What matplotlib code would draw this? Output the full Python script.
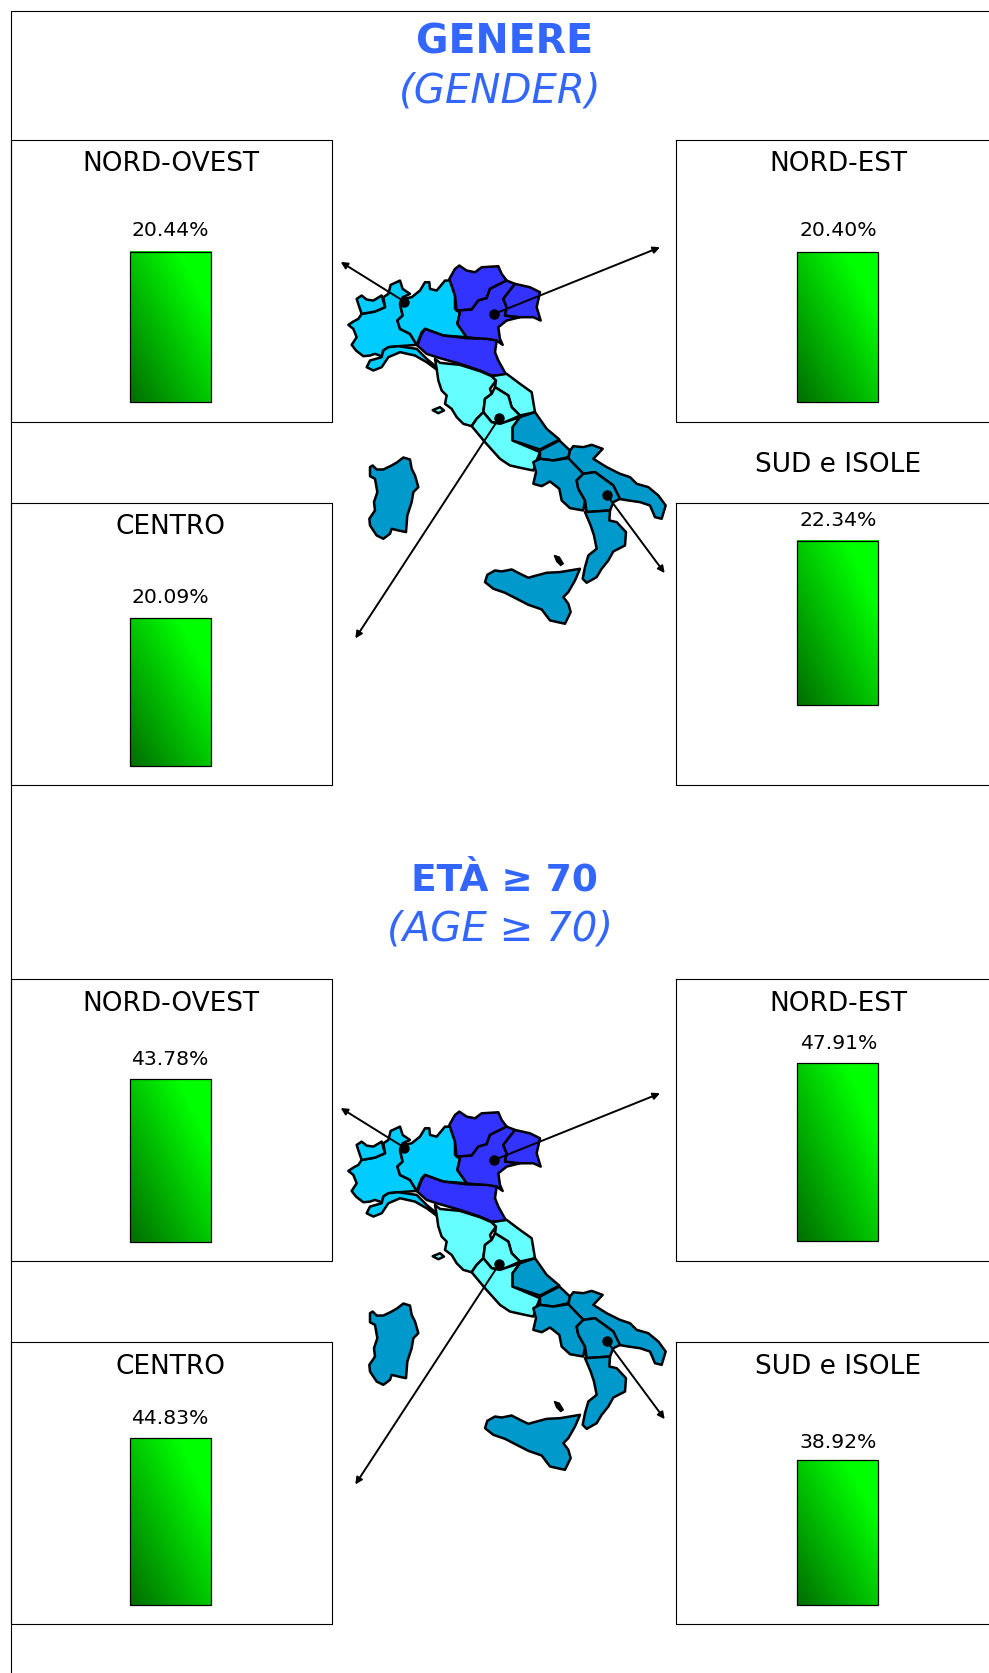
import numpy as np
import matplotlib
matplotlib.use('Agg')
import matplotlib.pyplot as plt
from matplotlib.colors import LinearSegmentedColormap
from matplotlib.patches import Polygon

# Chart values
areas = ['NORD-OVEST', 'NORD-EST', 'CENTRO', 'SUD e ISOLE']
gender_values = [20.44, 20.40, 20.09, 22.34]
age_values = [43.78, 47.91, 44.83, 38.92]

# Map outlines
piemonte = [(125,225),(165,218),(195,205),(190,175),(205,165),(212,138),(240,125),(248,150),(270,165),(248,175),(240,195),(248,230),(232,245),(240,270),(270,285),(290,318),(235,322),(205,325),(190,335),(185,352),(165,345),(150,350),(130,352),(108,335),(95,318),(110,295),(100,270),(85,258),(100,248),(115,240)]
aosta = [(110,180),(125,170),(140,182),(160,185),(185,170),(195,205),(165,218),(125,225),(118,205)]
lombardia = [(248,180),(275,175),(300,155),(315,130),(328,130),(330,150),(350,155),(375,125),(390,125),(405,170),(405,210),(420,220),(412,255),(440,295),(370,290),(315,270),(305,280),(290,318),(270,285),(240,270),(232,245),(248,230),(240,195)]
liguria = [(140,385),(150,365),(185,355),(190,335),(205,325),(235,322),(290,330),(320,360),(350,385),(350,392),(320,370),(285,350),(240,340),(205,355),(185,385),(160,395)]
trentino = [(388,120),(405,90),(418,80),(440,95),(465,100),(485,85),(535,82),(545,105),(560,125),(510,150),(500,178),(475,185),(455,212),(410,215),(405,170)]
veneto = [(410,215),(455,212),(475,185),(500,178),(510,150),(560,125),(585,135),(550,180),(560,205),(555,230),(600,235),(560,245),(535,265),(540,300),(548,318),(530,305),(440,295),(412,255),(420,220)]
friuli = [(585,135),(630,145),(660,160),(650,205),(662,245),(640,235),(600,235),(555,230),(560,205),(550,180)]
emilia = [(315,270),(370,290),(440,298),(500,300),(530,305),(525,340),(535,365),(560,410),(515,410),(480,395),(420,375),(350,355),(320,345),(292,320),(305,285)]
toscana = [(345,360),(360,372),(420,378),(480,397),(515,412),(528,425),(510,450),(515,465),(495,480),(490,520),(470,540),(455,562),(430,555),(410,535),(395,510),(375,495),(380,470),(365,455),(355,425),(350,390)]
marche = [(515,412),(560,405),(600,435),(635,460),(645,520),(600,530),(575,505),(565,470),(525,445),(528,425)]
umbria = [(515,465),(525,445),(565,470),(575,505),(600,530),(560,548),(540,555),(515,550),(490,520),(495,480)]
lazio = [(490,520),(515,550),(540,555),(560,548),(600,535),(578,565),(578,605),(660,640),(650,665),(640,695),(615,690),(570,680),(540,660),(495,610),(455,562),(470,540)]
abruzzo = [(600,535),(645,520),(680,570),(718,602),(660,632),(578,605),(578,565)]
molise = [(660,635),(718,605),(750,635),(745,655),(700,665),(660,660)]
puglia = [(750,635),(760,622),(790,625),(815,618),(848,630),(820,660),(860,685),(900,705),(930,715),(950,735),(985,745),(1015,770),(1037,800),(1025,840),(1005,835),(990,800),(960,790),(925,785),(895,780),(880,740),(825,700),(790,705),(745,660)]
campania = [(640,670),(660,660),(700,665),(745,658),(790,705),(770,725),(775,750),(795,785),(790,815),(750,808),(725,785),(718,750),(690,728),(665,742),(640,735),(648,700)]
basilicata = [(790,705),(825,700),(880,740),(900,780),(880,790),(870,815),(800,820),(795,785),(775,750),(770,725)]
calabria = [(795,820),(870,815),(868,845),(890,850),(918,880),(915,920),(880,938),(865,965),(845,990),(830,1015),(800,1032),(788,1020),(795,985),(805,950),(830,930),(822,890),(812,860)]
sicilia = [(495,1030),(502,1008),(525,995),(545,998),(575,992),(600,1005),(625,1017),(650,1010),(680,1002),(720,1000),(780,990),(765,1025),(745,1060),(730,1075),(745,1095),(752,1120),(735,1155),(712,1150),(690,1145),(665,1112),(625,1098),(590,1080),(555,1062),(520,1050)]
sardegna = [(150,685),(158,680),(170,692),(190,692),(215,680),(232,670),(250,656),(270,662),(275,690),(285,710),(295,745),(280,760),(275,790),(262,830),(258,880),(235,875),(215,870),(210,885),(190,900),(170,890),(150,860),(148,840),(165,815),(162,790),(172,760),(165,720),(150,712)]
elba = [(338,514),(360,505),(372,515),(355,523)]
eolie = [(703,950),(718,955),(730,975),(722,980),(710,968)]

map_groups = [
    ('#00CCFF', [piemonte, aosta, lombardia, liguria]),
    ('#3333FF', [trentino, veneto, friuli, emilia]),
    ('#66FFFF', [toscana, marche, umbria, lazio, elba]),
    ('#0099CC', [abruzzo, molise, puglia, campania, basilicata, calabria, sicilia, sardegna]),
]

# dot and arrow tip for each area, same units as the outlines
dots = [(253,188), (523,225), (538,537), (860,768)]
tips = [(62,69), (1020,25), (106,1199), (1034,1003)]

W, H = 989, 1674
S = 989 / 926
green = LinearSegmentedColormap.from_list('green', ['#006E00', '#00FF00'])

fig = plt.figure(figsize=(W / 100, H / 100), dpi=100)
ax = fig.add_axes([0, 0, 1, 1])
ax.set_xlim(0, 926)
ax.set_ylim(1568, 0)
ax.axis('off')


def map_xy(pt, dy):
    return ((320 + pt[0] / 3) / S, (240 + pt[1] / 3) / S + dy)


def draw_map(dy):
    for colour, shapes in map_groups:
        for shape in shapes:
            ax.add_patch(Polygon([map_xy(p, dy) for p in shape], closed=True, fc=colour,
                                 ec='black', lw=1.8, joinstyle='round', zorder=3))
    ax.add_patch(Polygon([map_xy(p, dy) for p in eolie], closed=True, fc='black',
                         ec='black', lw=1, zorder=3))
    for dot, tip in zip(dots, tips):
        ax.plot(*map_xy(dot, dy), 'o', color='black', ms=6.5, zorder=5)
        ax.annotate('', xy=map_xy(tip, dy), xytext=map_xy(dot, dy), zorder=4,
                    arrowprops=dict(arrowstyle='-|>', color='black', lw=1.4,
                                    shrinkA=0, shrinkB=0, mutation_scale=10))


def draw_bar(value, x0, x1, base, scale):
    # one small axes per bar so that the height comes from the value
    top_value = 60
    height = top_value * scale
    bar_ax = fig.add_axes([x0 / 926, 1 - base / 1568, (x1 - x0) / 926, height / 1568])
    bar_ax.axis('off')
    u, v = np.meshgrid(np.linspace(0, 1, 60), np.linspace(0, 1, 120))
    bar_ax.imshow((u + v) / 2, cmap=green, extent=(0, 1, 0, value), origin='lower',
                  aspect='auto', vmin=0, vmax=0.8)
    bar_ax.set_xlim(0, 1)
    bar_ax.set_ylim(0, top_value)
    bar_ax.bar(0.5, value, width=1, fc='none', ec='black', lw=0.9, clip_on=False)


def draw_block(title, subtitle, title_size, title_y, values, scale, dy, tops, bases, val_y, lab_y):
    ax.text(472, title_y, title, color='#3366FF', fontsize=title_size, fontweight='bold', ha='center', va='center')
    ax.text(468.5, title_y + 45, subtitle, color='#3366FF', fontsize=29, style='italic', ha='center', va='center')
    for i, name in enumerate(areas):
        left = i in (0, 2)
        x0, x1 = (10, 311) if left else (633, 940)
        ax.plot([x0, x1, x1, x0, x0], [tops[i], tops[i], tops[i] + 264, tops[i] + 264, tops[i]],
                color='black', lw=0.8, zorder=1)
        xc = 160 if left else 785
        ax.text(xc, lab_y[i] + 1, name, fontsize=19, ha='center', va='center')
        ax.text(xc - (1 if left else 0), val_y[i], f'{values[i]:.2f}%', fontsize=14.7, ha='center', va='center')
        bx0, bx1 = (122, 198) if left else (746.5, 822.5)
        draw_bar(values[i], bx0, bx1, bases[i], scale)
    draw_map(dy)


# outer frame
ax.plot([940, 10, 10], [11, 11, 1568], color='black', lw=0.8, zorder=1)

draw_block('GENERE', '(GENDER)', 28.5, 40, gender_values, 6.88, 0,
           [132, 132, 472, 472], [377.5, 377.5, 718, 661], [216, 216, 560, 488], [153, 153, 493, 435])
draw_block('ETÀ ≥ 70', '(AGE ≥ 70)', 27, 825, age_values, 3.48, 792.5,
           [918, 918, 1258, 1258], [1164, 1163.5, 1504, 1504], [992, 977, 1329, 1351], [939, 939, 1279, 1279])

fig.savefig('out.png', dpi=100)
